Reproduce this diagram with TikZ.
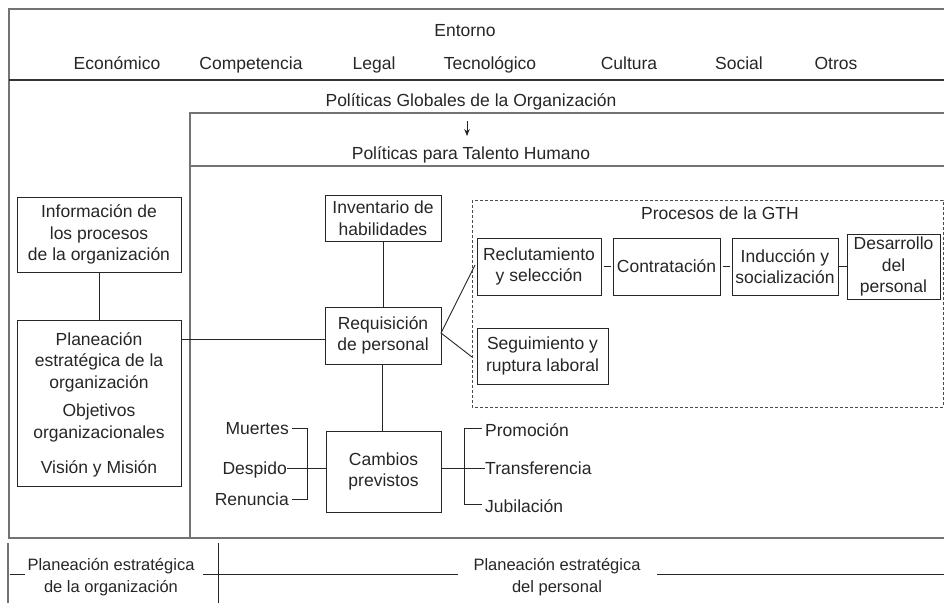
\documentclass[tikz,border=0pt]{standalone}
\usepackage{fontspec}
\setmainfont{Liberation Sans}
\usetikzlibrary{arrows.meta}
\begin{document}
\begin{tikzpicture}[x=1pt,y=-1pt,
  every node/.style={font=\fontsize{17.5}{21.5}\selectfont, text=black!85, inner sep=0pt},
  lbl/.style={text height=12.6pt, text depth=0pt},
  frame/.style={draw=black!55, line width=1.4pt},
  frameb/.style={draw=black!80, line width=1.1pt},
  boxn/.style={draw=black!85, line width=1pt, align=center},
  conn/.style={draw=black!85, line width=0.9pt},
  txt/.style={align=center}]
\useasboundingbox (0,0) rectangle (944,603);
% outer frame
\draw[frame] (944,9) -- (9,9) -- (9,538) -- (944,538);
\draw[frameb] (9,80) -- (944,80);
\draw[frame] (944,113) -- (190,113) -- (190,538);
\draw[frame] (190,166) -- (944,166);
% top texts
\node[lbl] (ent) at (465,30) {Entorno};
\node[lbl] (e1) at (117,63) {Económico};
\node[lbl] (e2) at (251,63) {Competencia};
\node[lbl] (e3) at (374,63) {Legal};
\node[lbl] (e4) at (490,63) {Tecnológico};
\node[lbl] (e5) at (629,63) {Cultura};
\node[lbl] (e6) at (739,63) {Social};
\node[lbl] (e7) at (836,63) {Otros};
\node[lbl] (pg) at (471,100) {Políticas Globales de la Organización};
\node[lbl] (pth) at (471,153) {Políticas para Talento Humano};
\coordinate (a1) at (467,121);
\coordinate (a2) at (467,136);
\draw[conn,-{Stealth[length=7pt,width=5.5pt]}] (a1) -- (a2);
% left boxes
\node[boxn, minimum width=164pt, minimum height=75pt] (info) at (99,234.5) {Información de\\los procesos\\de la organización};
\node[boxn, minimum width=164pt, minimum height=166pt] (plan) at (99,403) {};
\node[txt] (plan1) at (99,362) {Planeación\\estratégica de la\\organización};
\node[txt] (plan2) at (99,423) {Objetivos\\organizacionales};
\node[lbl] (plan3) at (99,467) {Visión y Misión};
\draw[conn] (info.south) -- (plan.north);
% middle boxes
\node[boxn, minimum width=116pt, minimum height=46pt] (inv) at (383,218) {Inventario de\\habilidades};
\node[boxn, minimum width=116pt, minimum height=57pt] (req) at (383,335.5) {Requisición\\de personal};
\node[boxn, minimum width=115pt, minimum height=81pt] (cam) at (383.5,471.5) {Cambios\\previstos};
\draw[conn] (inv.south) -- (req.north);
\draw[conn] (req.south -| 382,0) -- (cam.north -| 382,0);
\draw[conn] (plan.east |- 0,339) -- (req.west |- 0,339);
% GTH dashed box
\draw[draw=black!70, line width=0.9pt, dash pattern=on 3pt off 2pt] (472,200) rectangle (943,407);
\node[lbl] (gth) at (720,213) {Procesos de la GTH};
\node[boxn, minimum width=124pt, minimum height=57pt] (rec) at (539,266.5) {Reclutamiento\\y selección};
\node[boxn, minimum width=107pt, minimum height=57pt, lbl] (con) at (666.5,266.5) {Contratación};
\node[boxn, minimum width=106pt, minimum height=57pt] (ind) at (785,266.5) {Inducción y\\socialización};
\node[boxn, minimum width=93pt, minimum height=65pt] (des) at (893.5,266.5) {Desarrollo\\del\\personal};
\node[boxn, minimum width=131pt, minimum height=56pt] (seg) at (542.5,356) {Seguimiento y\\ruptura laboral};
\draw[conn, shorten <=2pt, shorten >=2pt] (rec.east) -- (con.west);
\draw[conn, shorten <=2pt, shorten >=2pt] (con.east) -- (ind.west);
\draw[conn] (ind.east) -- (des.west);
\coordinate (rq) at (441,333);
\coordinate (up) at (475,265);
\coordinate (dn) at (472,357);
\draw[conn] (up) -- (rq) -- (dn);
% causes
\node[anchor=east, lbl] (mu) at (289,428) {Muertes};
\node[anchor=east, lbl] (de) at (287,468) {Despido};
\node[anchor=east, lbl] (re) at (289,499) {Renuncia};
\coordinate (bl1) at (307,428);
\coordinate (bl2) at (307,468);
\coordinate (bl3) at (307,499);
\draw[conn] ([xshift=3pt]mu.east) -- (bl1) -- (bl3) -- ([xshift=3pt]re.east);
\draw[conn] (de.east) -- (bl2) -- (cam.west |- bl2);
% effects
\coordinate (br1) at (464,428);
\coordinate (br2) at (464,468);
\coordinate (br3) at (464,504);
\node[anchor=west, lbl] (pr) at (485,430) {Promoción};
\node[anchor=west, lbl] (tr) at (485,468) {Transferencia};
\node[anchor=west, lbl] (ju) at (485,506) {Jubilación};
\draw[conn] (482,428) -- (br1) -- (br3) -- (482,504);
\draw[conn] (cam.east |- br2) -- (br2) -- (tr.west);
% bottom band
\draw[frame] (8,543) -- (8,603);
\draw[conn, line width=1pt] (218,543) -- (218,603);
\node[txt, font=\fontsize{16.5}{22}\selectfont] (bl) at (111,577) {Planeación estratégica\\de la organización};
\node[txt, font=\fontsize{16.5}{22}\selectfont] (br) at (557,577) {Planeación estratégica\\del personal};
\draw[conn] (10,574) -- (25,574);
\draw[conn] (203,574) -- (458,574);
\draw[conn] (657,574) -- (944,574);
\end{tikzpicture}
\end{document}
